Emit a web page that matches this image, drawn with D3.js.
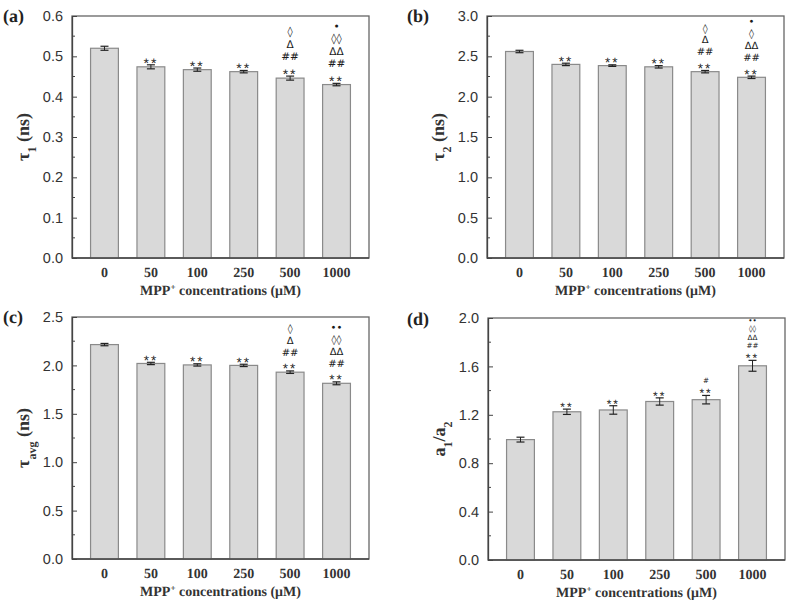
<!DOCTYPE html>
<html><head><meta charset="utf-8">
<script src="https://cdn.jsdelivr.net/npm/d3@7"></script>
<style>
body{margin:0;background:#fff;}
svg{display:block;}
text{text-rendering:geometricPrecision;}
</style>
</head><body>
<svg id="chart" width="787" height="601"></svg>
<script>
const categories = ["0","50","100","250","500","1000"];

const tau1Values = [0.520, 0.474, 0.467, 0.462, 0.446, 0.430];
const tau1Errors = [0.005, 0.005, 0.004, 0.003, 0.005, 0.003];
const tau1Marks  = [[], ["**"], ["**"], ["**"], ["**","##","Δ","◊"], ["**","##","ΔΔ","◊◊","•"]];
const tau1Ticks  = [0, 0.1, 0.2, 0.3, 0.4, 0.5, 0.6];

const tau2Values = [2.560, 2.400, 2.385, 2.370, 2.310, 2.240];
const tau2Errors = [0.015, 0.015, 0.010, 0.015, 0.015, 0.015];
const tau2Marks  = [[], ["**"], ["**"], ["**"], ["**","##","Δ","◊"], ["**","##","ΔΔ","◊","•"]];
const tau2Ticks  = [0, 0.5, 1.0, 1.5, 2.0, 2.5, 3.0];

const tauAvgValues = [2.215, 2.020, 2.005, 2.000, 1.930, 1.815];
const tauAvgErrors = [0.012, 0.012, 0.012, 0.012, 0.013, 0.015];
const tauAvgMarks  = [[], ["**"], ["**"], ["**"], ["**","##","Δ","◊"], ["**","##","ΔΔ","◊◊","••"]];
const tauAvgTicks  = [0, 0.5, 1.0, 1.5, 2.0, 2.5];

const ratioValues = [0.995, 1.225, 1.240, 1.310, 1.325, 1.605];
const ratioErrors = [0.020, 0.022, 0.035, 0.030, 0.035, 0.045];
const ratioMarks  = [[], ["**"], ["**"], ["**"], ["**","#"], ["**","##","ΔΔ","◊◊","••"]];
const ratioTicks  = [0, 0.4, 0.8, 1.2, 1.6, 2.0];

const panels = [
  {label:"(a)", ySym:"τ", ySub:"1", values:tau1Values, errors:tau1Errors, marks:tau1Marks, ticks:tau1Ticks,
   left:72, top:16, lx:3, ly:22, markGap:12.5, markSize:10.5, starSize:14},
  {label:"(b)", ySym:"τ", ySub:"2", values:tau2Values, errors:tau2Errors, marks:tau2Marks, ticks:tau2Ticks,
   left:487, top:16, lx:407, ly:22, markGap:11.8, markSize:10, starSize:13.5},
  {label:"(c)", ySym:"τ", ySub:"avg", values:tauAvgValues, errors:tauAvgErrors, marks:tauAvgMarks, ticks:tauAvgTicks,
   left:72, top:317, lx:3, ly:323, markGap:11.8, markSize:10, starSize:13.5},
  {label:"(d)", ySym:"a", ySub:"1", ySym2:"a", ySub2:"2", values:ratioValues, errors:ratioErrors, marks:ratioMarks, ticks:ratioTicks,
   left:488, top:318, lx:407, ly:325, markGap:8.5, markSize:7.2, starSize:12}
];

const W = 297, H = 242;
const svg = d3.select("#chart");

panels.forEach(p => {
  const g = svg.append("g").attr("transform", `translate(${p.left},${p.top})`);
  const yMax = p.ticks[p.ticks.length-1];
  const y = d3.scaleLinear().domain([0, yMax]).range([H, 0]);
  const x = d3.scalePoint().domain(categories).range([0, W]).padding(0.7);
  const bw = x.step()*0.6;

  g.append("rect").attr("x",0).attr("y",0).attr("width",W).attr("height",H)
    .attr("fill","none").attr("stroke","#666").attr("stroke-width",1.3);

  g.selectAll("rect.bar").data(p.values).join("rect").attr("class","bar")
    .attr("x",(d,i)=>x(categories[i])-bw/2).attr("width",bw)
    .attr("y",d=>y(d)).attr("height",d=>H-y(d))
    .attr("fill","#d9d9d9").attr("stroke","#8a8a8a").attr("stroke-width",1.2);

  const eb = g.selectAll("g.err").data(p.values).join("g").attr("class","err");
  eb.append("line").attr("x1",(d,i)=>x(categories[i])).attr("x2",(d,i)=>x(categories[i]))
    .attr("y1",(d,i)=>y(d-p.errors[i])).attr("y2",(d,i)=>y(d+p.errors[i]))
    .attr("stroke","#222").attr("stroke-width",1);
  [-1,1].forEach(s=>{
    eb.append("line").attr("x1",(d,i)=>x(categories[i])-4).attr("x2",(d,i)=>x(categories[i])+4)
      .attr("y1",(d,i)=>y(d+s*p.errors[i])).attr("y2",(d,i)=>y(d+s*p.errors[i]))
      .attr("stroke","#222").attr("stroke-width",1.2);
  });

  const yAxis = d3.axisLeft(y).tickValues(p.ticks).tickFormat(d3.format(".1f")).tickSizeInner(-5).tickSizeOuter(0).tickPadding(9);
  const ya = g.append("g").call(yAxis);
  ya.select(".domain").attr("stroke","#444").attr("stroke-width",1.3);
  ya.selectAll(".tick line").attr("stroke","#444");
  ya.selectAll(".tick text").attr("font-family","'Liberation Sans', Arial, sans-serif").attr("font-size",14.5).attr("fill","#333");
  const minors = d3.pairs(p.ticks).map(([a,b])=>(a+b)/2);
  g.selectAll("line.minor").data(minors).join("line").attr("class","minor")
    .attr("x1",0).attr("x2",3).attr("y1",d=>y(d)).attr("y2",d=>y(d)).attr("stroke","#444");

  g.append("line").attr("x1",0).attr("x2",W).attr("y1",H).attr("y2",H).attr("stroke","#444").attr("stroke-width",1.3);

  g.selectAll("text.cat").data(categories).join("text").attr("class","cat")
    .attr("x",d=>x(d)).attr("y",H+19).attr("text-anchor","middle")
    .attr("font-family","'Liberation Serif', 'Times New Roman', serif").attr("font-weight","bold")
    .attr("font-size",14).attr("fill","#333").text(d=>d);

  const xt = g.append("text").attr("x",W/2).attr("y",H+37).attr("text-anchor","middle")
    .attr("font-family","'Liberation Serif', 'Times New Roman', serif").attr("font-weight","bold")
    .attr("font-size",14).attr("fill","#333");
  xt.append("tspan").text("MPP");
  xt.append("tspan").attr("baseline-shift","super").attr("font-size",9).text("+");
  xt.append("tspan").text(" concentrations (μM)");

  const yt = g.append("text").attr("transform",`translate(${-43},${H/2}) rotate(-90)`).attr("text-anchor","middle")
    .attr("font-family","'Liberation Serif', 'Times New Roman', serif").attr("font-weight","bold")
    .attr("font-size",18).attr("fill","#333");
  yt.append("tspan").text(p.ySym);
  yt.append("tspan").attr("baseline-shift","sub").attr("font-size",12).text(p.ySub);
  if (p.ySym2) {
    yt.append("tspan").text("/"+p.ySym2);
    yt.append("tspan").attr("baseline-shift","sub").attr("font-size",12).text(p.ySub2);
  } else {
    yt.append("tspan").text(" (ns)");
  }

  p.marks.forEach((arr,i)=>{
    if (!arr.length) return;
    const base = y(p.values[i]+p.errors[i]) - 3.5;
    const cx = x(categories[i]);
    const n = arr.length;
    const t = g.append("text").attr("text-anchor","middle").attr("fill","#1a1a1a")
      .attr("font-family","'DejaVu Sans', sans-serif").attr("font-size",p.markSize);
    arr.slice().reverse().forEach((m,k)=>{
      const isStar = m.includes("*");
      const level = n-1-k;
      const yy = base - level*p.markGap + (isStar ? p.starSize*0.45 : 0);
      t.append("tspan").attr("x",cx).attr("y",yy)
        .attr("font-family", isStar ? "'Liberation Sans', Arial, sans-serif" : null)
        .attr("font-size", isStar ? p.starSize : null)
        .attr("letter-spacing", isStar ? 2 : null)
        .text(m);
    });
  });

  svg.append("text").attr("x",p.lx).attr("y",p.ly)
    .attr("font-family","'Liberation Serif', 'Times New Roman', serif").attr("font-weight","bold")
    .attr("font-size",18).attr("fill","#222").text(p.label);
});
</script>
</body></html>
